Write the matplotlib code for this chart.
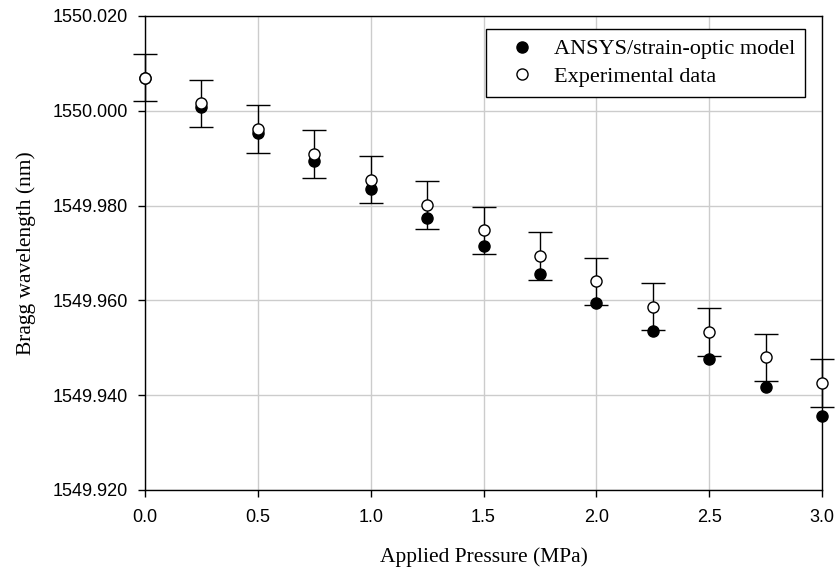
import matplotlib
matplotlib.use("Agg")
import matplotlib.pyplot as plt
from matplotlib.ticker import FormatStrFormatter

pressure = [0.0, 0.25, 0.5, 0.75, 1.0, 1.25, 1.5, 1.75, 2.0, 2.25, 2.5, 2.75, 3.0]
model_wl = [1550.0070, 1550.0009, 1549.9953, 1549.9894, 1549.9835, 1549.9774, 1549.9714,
            1549.9655, 1549.9595, 1549.9535, 1549.9476, 1549.9417, 1549.9357]
exp_wl = [1550.0070, 1550.0016, 1549.9962, 1549.9909, 1549.9855, 1549.9801, 1549.9748,
          1549.9694, 1549.9640, 1549.9587, 1549.9533, 1549.9480, 1549.9426]
exp_err = [0.005] * 13

serif = "Liberation Serif"
sans = "Liberation Sans"

fig = plt.figure(figsize=(8.38, 5.71), dpi=100)
ax = fig.add_axes([145 / 838, 1 - 490 / 571, 677 / 838, 474 / 571])

eb = ax.errorbar(pressure, exp_wl, yerr=exp_err, fmt="none", ecolor="black",
                 elinewidth=1.0, capsize=8.3, capthick=1.0, zorder=3)
for art in eb.lines[1] + eb.lines[2]:
    art.set_clip_on(False)
ax.plot(pressure, model_wl, "o", color="black", markersize=8, zorder=4,
        clip_on=False, label="ANSYS/strain-optic model")
ax.plot(pressure, exp_wl, "o", markerfacecolor="white", markeredgecolor="black",
        markeredgewidth=1.0, markersize=8, zorder=5, clip_on=False,
        label="Experimental data")

ax.set_xlim(0, 3.0)
ax.set_ylim(1549.920, 1550.020)
ax.set_xticks([0.0, 0.5, 1.0, 1.5, 2.0, 2.5, 3.0])
ax.set_yticks([1549.920, 1549.940, 1549.960, 1549.980, 1550.000, 1550.020])
ax.xaxis.set_major_formatter(FormatStrFormatter("%.1f"))
ax.yaxis.set_major_formatter(FormatStrFormatter("%.3f"))
ax.grid(True, color="#cccccc", linewidth=1.0, zorder=0)
ax.set_axisbelow(True)

ax.tick_params(direction="out", length=5, width=1.0, labelsize=13, pad=7)
ax.tick_params(axis="x", pad=9)
for lab in ax.get_xticklabels() + ax.get_yticklabels():
    lab.set_family(sans)
for sp in ax.spines.values():
    sp.set_linewidth(1.0)

ax.set_xlabel("Applied Pressure (MPa)", family=serif, fontsize=15.5, labelpad=15)
ax.set_ylabel("Bragg wavelength (nm)", family=serif, fontsize=15.5, labelpad=12)

leg = ax.legend(loc="upper right", bbox_to_anchor=(0.975, 0.973), borderaxespad=0,
                prop={"family": serif, "size": 16}, fancybox=False,
                edgecolor="black", framealpha=1, handlelength=2.3,
                handletextpad=0.3, borderpad=0.45, labelspacing=0.3)
leg.get_frame().set_linewidth(1.0)

fig.savefig("out.png", dpi=100)
